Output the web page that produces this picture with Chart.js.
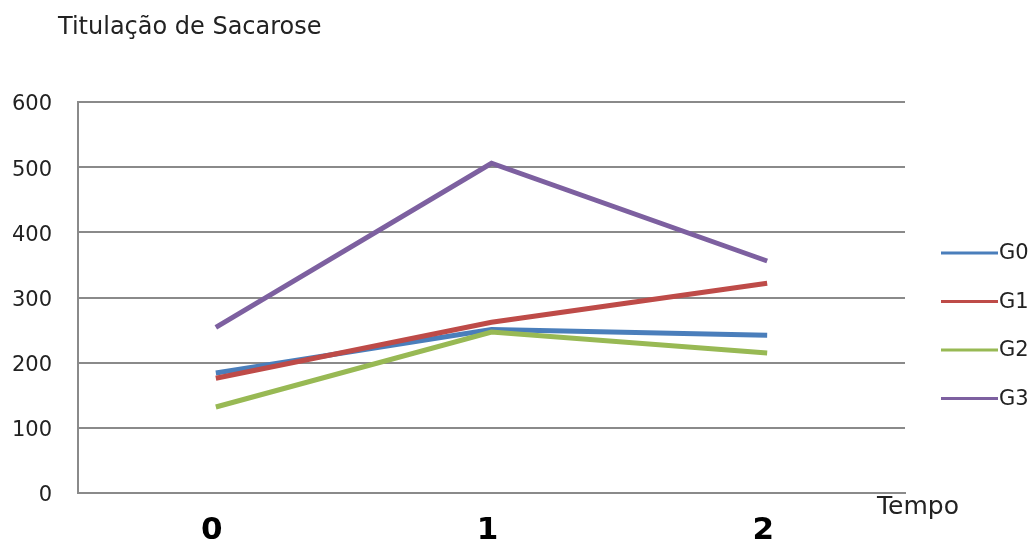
<!DOCTYPE html>
<html>
<head>
<meta charset="utf-8">
<script src="https://cdn.jsdelivr.net/npm/chart.js@4/dist/chart.umd.min.js"></script>
<style>
  body { margin: 0; background: #fff; }
  #wrap { width: 1032px; height: 543px; }
</style>
</head>
<body>
<div id="wrap"><canvas id="chart" width="1032" height="543"></canvas></div>
<script>
// Titulação de Sacarose
const tempos = ['0', '1', '2'];
const seriesNames = ['G0', 'G1', 'G2', 'G3'];
const g0 = [184, 251, 242];
const g1 = [176, 262, 322];
const g2 = [132, 247, 215];
const g3 = [254, 506, 356];
const yTicks = [0, 100, 200, 300, 400, 500, 600];

const colors = ['#4a7ebb', '#be4b48', '#98b954', '#7d60a0'];
const gridColor = '#8a8a8a';

// title, "Tempo" label and the legend on the right
const decorations = {
  id: 'decorations',
  afterDraw(chart) {
    const ctx = chart.ctx;
    ctx.save();
    ctx.fillStyle = '#222';
    ctx.textBaseline = 'middle';
    ctx.textAlign = 'left';
    ctx.font = '24px "DejaVu Sans"';
    ctx.fillText('Titulação de Sacarose', 58, 28);
    ctx.font = '25px "DejaVu Sans"';
    ctx.fillText('Tempo', 877, 507);

    ctx.font = '21px "DejaVu Sans"';
    chart.data.datasets.forEach((ds, i) => {
      const y = 253 + i * 48.5;
      ctx.strokeStyle = ds.borderColor;
      ctx.lineWidth = 3;
      ctx.beginPath();
      ctx.moveTo(941, y);
      ctx.lineTo(998, y);
      ctx.stroke();
      ctx.fillText(ds.label, 999, y + 1);
    });
    ctx.restore();
  }
};

const allSeries = [g0, g1, g2, g3];

new Chart(document.getElementById('chart'), {
  type: 'line',
  data: {
    labels: tempos,
    datasets: allSeries.map((vals, i) => ({
      label: seriesNames[i],
      data: vals,
      borderColor: colors[i],
      backgroundColor: colors[i],
      borderWidth: 5,
      pointRadius: 0,
      tension: 0,
      order: 4 - i
    }))
  },
  options: {
    responsive: false,
    animation: false,
    layout: { padding: { top: 102, right: 127, left: 0, bottom: 0 } },
    plugins: {
      legend: { display: false },
      title: { display: false },
      tooltip: { enabled: false }
    },
    scales: {
      x: {
        offset: true,
        grid: { display: false, drawTicks: false },
        border: { display: true, color: gridColor, width: 2 },
        ticks: {
          color: '#000',
          padding: 19,
          labelOffset: -4,
          font: { family: 'DejaVu Sans', size: 31, weight: 'bold' }
        },
        afterFit(scale) { scale.height = 50; }
      },
      y: {
        min: 0,
        max: 600,
        afterBuildTicks(scale) { scale.ticks = yTicks.map(v => ({ value: v })); },
        grid: { color: gridColor, lineWidth: 2, drawTicks: false },
        border: { display: true, color: gridColor, width: 2 },
        ticks: {
          color: '#222',
          padding: 26,
          labelOffset: 3,
          font: { family: 'DejaVu Sans', size: 21 }
        },
        afterFit(scale) { scale.width = 78; }
      }
    }
  },
  plugins: [decorations]
});
</script>
</body>
</html>
